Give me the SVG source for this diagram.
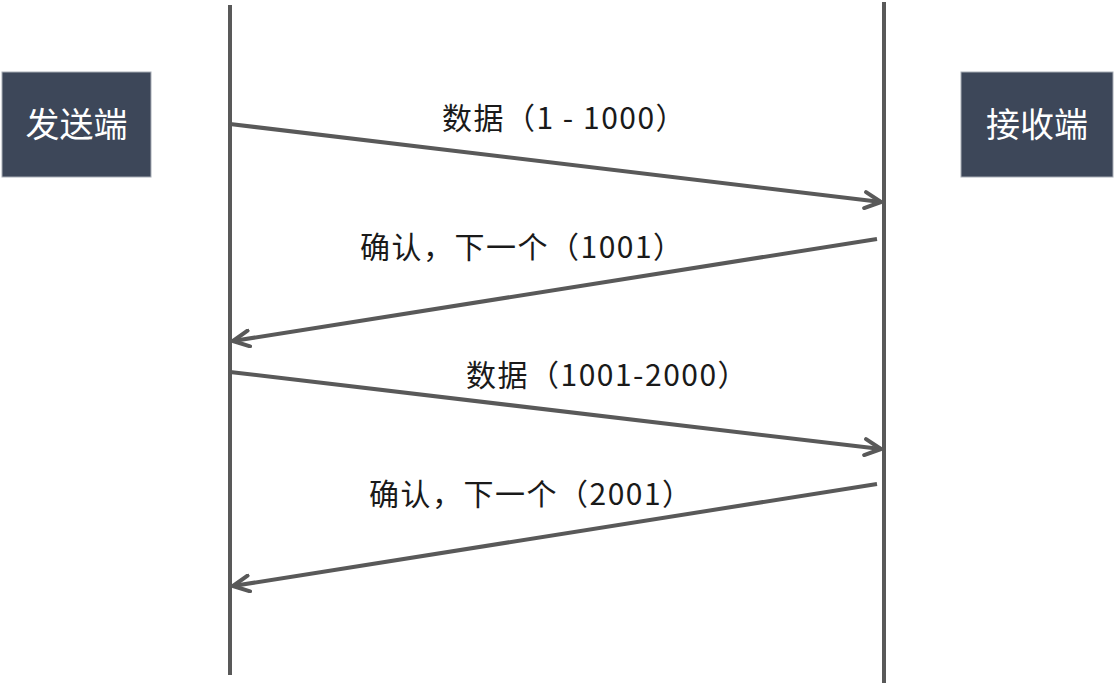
<svg xmlns="http://www.w3.org/2000/svg" width="1116" height="688" viewBox="0 0 1116 688">
<style>
.box{fill:#3d4759;stroke:#a8adb6;stroke-width:1}
.bt{font-family:"Noto Sans CJK SC","Noto Sans",sans-serif;font-size:34px;fill:#ffffff;text-anchor:middle}
.life{stroke:#595959;stroke-width:4;fill:none}
.msg{stroke:#595959;stroke-width:4;fill:none;marker-end:url(#ah)}
.lbl{font-family:"Noto Sans CJK SC","Noto Sans",sans-serif;font-size:30px;fill:#1a1a1a;letter-spacing:1.5px}
</style>
<defs>
<marker id="ah" viewBox="0 0 20 20" refX="18" refY="10" markerWidth="20" markerHeight="20" markerUnits="userSpaceOnUse" orient="auto">
<path d="M2,2 L18,10 L2,18" fill="none" stroke="#595959" stroke-width="4" stroke-linecap="round" stroke-linejoin="round"/>
</marker>
</defs>
<g id="sender">
<rect class="box" x="2" y="72" width="149" height="105"/>
<text class="bt" x="76.5" y="137">发送端</text>
</g>
<g id="receiver">
<rect class="box" x="961" y="72" width="152" height="105"/>
<text class="bt" x="1037" y="137">接收端</text>
</g>
<g id="lifelines">
<line class="life" x1="230" y1="5" x2="230" y2="675"/>
<line class="life" x1="884" y1="2" x2="884" y2="683"/>
</g>
<g id="connectors">
<line class="msg" x1="230" y1="124" x2="881" y2="202"/>
<line class="msg" x1="877" y1="239" x2="233" y2="341"/>
<line class="msg" x1="230" y1="372" x2="881" y2="449"/>
<line class="msg" x1="877" y1="484" x2="233" y2="586"/>
</g>
<g id="labels">
<text class="lbl" x="442" y="129">数据（1 - 1000）</text>
<text class="lbl" x="360" y="258">确认，下一个（1001）</text>
<text class="lbl" x="466" y="386">数据（1001-2000）</text>
<text class="lbl" x="369" y="505">确认，下一个（2001）</text>
</g>
</svg>
